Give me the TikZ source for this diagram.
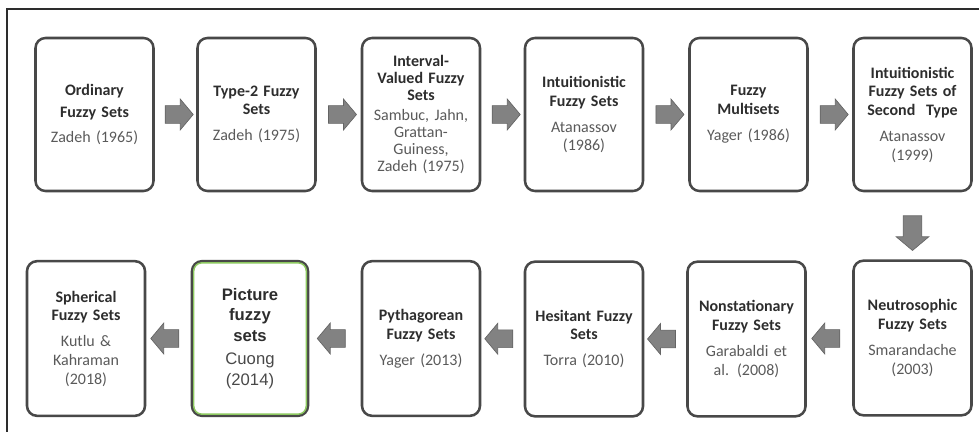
\documentclass[tikz,border=0pt]{standalone}
\usepackage{fontspec}
\setmainfont{Carlito}
\newfontfamily\arialfont{Liberation Sans}
\usetikzlibrary{shapes.arrows,calc}
\definecolor{boxgray}{RGB}{72,72,72}
\definecolor{titlegray}{RGB}{45,45,45}
\definecolor{authgray}{RGB}{90,90,90}
\definecolor{arrfill}{RGB}{130,130,130}
\definecolor{arrline}{RGB}{100,100,100}
\definecolor{picgreen}{RGB}{140,200,95}
\newcommand{\fsettext}[3][5.5pt]{\textbf{#2}\\[#1]{\color{authgray}#3}}
\tikzset{
	fset/.style={draw=boxgray,line width=1.9pt,rounded corners=7.5pt,
		minimum width=88.5pt,minimum height=114.75pt,align=center,
		inner xsep=0pt,text width=86pt,
		text=titlegray,font=\fontsize{12}{14}\selectfont},
	barr/.style={single arrow,draw=arrline,fill=arrfill,line width=0.5pt,
		inner xsep=0pt,inner ysep=6.4pt,single arrow head extend=4.9pt,
		minimum height=21pt,single arrow tip angle=100},
	rarr/.style={barr,shape border rotate=0},
	larr/.style={barr,shape border rotate=180},
	darr/.style={barr,shape border rotate=270,minimum height=26pt,
		inner ysep=0pt,inner xsep=6.8pt,single arrow head extend=5.2pt}
}
\begin{document}
\begin{tikzpicture}[x=0.75pt,y=-0.75pt]
	\useasboundingbox(0,0)rectangle(979,432);
	\draw[line width=0.9pt,titlegray](7,432)coordinate(f1)|-(979,9)coordinate(f2);
	% top row
	\node[fset,font=\fontsize{12}{16}\selectfont](s1)at(94.5,114.5){\fsettext[3pt]{Ordinary\\Fuzzy Sets}{Zadeh (1965)}};
	\node[fset](s2)at(256.5,114.5){\fsettext{Type-2 Fuzzy\\Sets}{Zadeh (1975)}};
	\node[fset,font=\fontsize{12}{12.75}\selectfont](s3)at(421,114.5){\fsettext[2.5pt]{Interval-\\Valued Fuzzy\\Sets}{Sambuc, Jahn,\\Grattan-\\Guiness,\\Zadeh (1975)}};
	\node[fset](s4)at(584,114.5){\fsettext{Intuitionistic\\Fuzzy Sets}{Atanassov\\(1986)}};
	\node[fset](s5)at(748.5,114.5){\fsettext{Fuzzy\\Multisets}{Yager (1986)}};
	\node[fset](s6)at(912.5,114.5){\fsettext{Intuitionistic\\Fuzzy Sets of\\Second\ \ Type}{Atanassov\\(1999)}};
	% bottom row
	\node[fset,minimum height=116pt](s7)at(912.5,338){\fsettext{Neutrosophic\\Fuzzy Sets}{Smarandache\\(2003)}};
	\node[fset,minimum height=116pt](s8)at(746.5,339){\fsettext{Nonstationary\\Fuzzy Sets}{Garabaldi et\\al. (2008)}};
	\node[fset,minimum height=116pt](s9)at(584,339){\fsettext{Hesitant Fuzzy\\Sets}{Torra (2010)}};
	\node[fset,minimum height=116pt](s10)at(421,338.5){\fsettext{Pythagorean\\Fuzzy Sets}{Yager (2013)}};
	\node[fset,minimum height=116pt,minimum width=87pt,text width=85pt,
		font=\arialfont\fontsize{12.5}{15.5}\selectfont](s11)at(250,338.5)
		{\textbf{Picture\\fuzzy\\sets}\\[2pt]{\color{boxgray}Cuong\\(2014)}};
	\draw[picgreen,line width=1.1pt,rounded corners=6pt]
		([shift={(3,3)}]s11.north west)rectangle([shift={(-3,-3)}]s11.south east);
	\node[fset,minimum height=116pt](s12)at(86,338.5){\fsettext{Spherical\\Fuzzy Sets}{Kutlu \&\\Kahraman\\(2018)}};
	% arrows
	\node[rarr](a1)at($(s1.east)!0.5!(s2.west)$){};
	\node[rarr](a2)at($(s2.east)!0.5!(s3.west)$){};
	\node[rarr](a3)at($(s3.east)!0.5!(s4.west)$){};
	\node[rarr](a4)at($(s4.east)!0.5!(s5.west)$){};
	\node[rarr](a5)at($(s5.east)!0.5!(s6.west)$){};
	\node[darr](a6)at($(s6.south)!0.55!(s7.north)$){};
	\node[larr](a7)at($(s7.west)!0.5!(s8.east)$){};
	\node[larr](a8)at($(s8.west)!0.5!(s9.east)$){};
	\node[larr](a9)at($(s9.west)!0.5!(s10.east)$){};
	\node[larr](a10)at($(s10.west)!0.5!(s11.east)$){};
	\node[larr](a11)at($(s11.west)!0.5!(s12.east)$){};
\end{tikzpicture}
\end{document}
